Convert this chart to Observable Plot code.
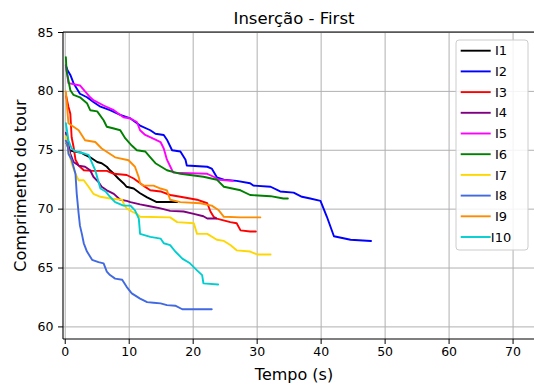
<!DOCTYPE html>
<html><head><meta charset="utf-8">
<script src="https://cdn.jsdelivr.net/npm/d3@7"></script>
<script src="https://cdn.jsdelivr.net/npm/@observablehq/plot@0.6"></script>
<style>
body{margin:0;background:#fff;}
#chart{position:relative;width:534px;height:387px;}
</style>
</head><body><div id="chart"></div>
<script>
const titleText = "Inserção - First";
const xLabelText = "Tempo (s)";
const yLabelText = "Comprimento do tour";
const xTicks = [0, 10, 20, 30, 40, 50, 60, 70];
const yTicks = [60, 65, 70, 75, 80, 85];

const seriesNames = ["I1","I2","I3","I4","I5","I6","I7","I8","I9","I10"];
const seriesColors = ["#000000","#0000ff","#ff0000","#800080","#ff00ff","#008000","#ffd700","#4169e1","#ff8c00","#00ced1"];

const I1_t = [0.2, 0.6, 1.3, 2.5, 3.1, 3.9, 5.0, 5.7, 6.5, 7.0, 7.6, 8.3, 9.1, 9.6, 10.7, 11.7, 12.8, 14.3, 17.5];
const I1_y = [75.6, 75.0, 74.9, 74.8, 74.6, 74.4, 74.0, 73.9, 73.6, 73.3, 73.0, 72.6, 72.2, 71.9, 71.75, 71.35, 71.0, 70.6, 70.6];

const I2_t = [0.1, 0.36, 0.8, 1.3, 2.3, 3.4, 4.4, 5.5, 7.0, 8.6, 10.2, 11.7, 13.3, 14.1, 15.4, 15.9, 16.7, 18.0, 18.8, 19.0, 22.2, 22.9, 23.7, 24.8, 26.8, 28.9, 29.4, 32.1, 33.6, 35.7, 37.0, 38.3, 39.9, 40.9, 42.0, 44.6, 47.8];
const I2_y = [82.2, 81.8, 81.4, 80.7, 79.8, 79.5, 79.1, 78.7, 78.4, 78.0, 77.7, 77.1, 76.7, 76.4, 76.3, 75.9, 75.0, 74.9, 74.2, 73.7, 73.6, 73.45, 72.7, 72.5, 72.4, 72.2, 72.0, 71.9, 71.5, 71.4, 71.05, 70.9, 70.7, 69.35, 67.7, 67.4, 67.3];

const I3_t = [0.15, 0.5, 0.8, 1.0, 1.3, 1.6, 2.1, 2.9, 4.4, 6.5, 7.6, 9.6, 10.7, 12.2, 13.3, 14.9, 16.4, 18.0, 20.6, 22.2, 22.7, 23.2, 23.7, 25.8, 26.8, 27.4, 28.9, 29.8];
const I3_y = [79.6, 78.7, 78.1, 76.1, 75.3, 74.2, 73.7, 73.3, 73.25, 73.25, 73.0, 72.9, 72.6, 72.0, 71.6, 71.5, 71.2, 71.05, 70.8, 70.5, 69.8, 69.35, 69.2, 68.9, 68.8, 68.2, 68.1, 68.1];

const I4_t = [0.1, 0.36, 0.8, 1.3, 2.1, 3.1, 3.9, 4.4, 5.2, 5.7, 6.5, 7.6, 8.6, 9.6, 10.2, 11.7, 13.2, 14.9, 16.4, 18.5, 20.1, 21.6, 22.2, 23.6];
const I4_y = [76.5, 75.85, 74.7, 74.0, 73.7, 73.6, 73.3, 72.75, 72.3, 71.9, 71.6, 71.3, 70.8, 70.7, 70.6, 70.4, 70.25, 70.06, 69.85, 69.8, 69.6, 69.4, 69.2, 69.2];

const I5_t = [0.1, 0.5, 2.3, 3.1, 3.9, 4.4, 6.0, 7.6, 9.1, 10.2, 11.2, 11.7, 12.5, 14.1, 14.9, 15.4, 15.9, 16.7, 16.9, 22.2, 23.2, 24.0, 26.2];
const I5_y = [82.2, 80.7, 80.5, 80.0, 79.5, 79.25, 78.8, 78.4, 77.8, 77.7, 77.4, 76.7, 76.3, 75.9, 75.7, 75.15, 74.2, 73.3, 73.1, 73.0, 72.75, 72.5, 72.4];

const I6_t = [0.1, 0.2, 0.8, 1.3, 2.3, 3.4, 3.9, 5.0, 6.0, 6.5, 7.6, 8.6, 9.4, 10.4, 11.2, 12.5, 13.3, 14.1, 15.9, 18.0, 21.6, 23.7, 24.8, 27.4, 28.9, 32.1, 34.1, 34.8];
const I6_y = [82.9, 81.8, 80.1, 79.7, 79.5, 79.0, 78.4, 78.3, 77.55, 77.0, 76.85, 76.7, 76.0, 75.4, 75.0, 74.9, 74.4, 73.9, 73.3, 73.0, 72.75, 72.5, 71.9, 71.6, 71.2, 71.1, 70.9, 70.9];

const I7_t = [0.1, 0.5, 1.0, 1.6, 2.1, 2.9, 3.65, 4.4, 5.5, 7.0, 8.9, 9.1, 9.6, 10.4, 11.2, 11.7, 16.4, 17.5, 20.1, 20.6, 22.2, 23.7, 24.8, 25.8, 26.8, 28.9, 30.0, 32.1];
const I7_y = [76.2, 75.0, 73.9, 73.0, 72.45, 72.45, 71.9, 71.3, 71.05, 70.9, 70.8, 70.5, 70.06, 69.8, 69.6, 69.35, 69.3, 68.9, 68.8, 67.9, 67.9, 67.4, 67.3, 66.95, 66.5, 66.4, 66.15, 66.15];

const I8_t = [0.1, 0.36, 0.5, 1.0, 1.6, 1.8, 2.1, 2.3, 2.6, 2.9, 3.4, 4.2, 5.2, 6.0, 6.5, 7.0, 7.8, 8.9, 9.6, 10.4, 11.7, 12.8, 13.8, 14.9, 15.9, 17.2, 18.3, 22.9];
const I8_y = [75.8, 75.6, 74.7, 74.2, 73.0, 71.3, 69.6, 68.6, 67.9, 67.1, 66.4, 65.7, 65.5, 65.4, 64.7, 64.4, 64.1, 64.0, 63.4, 62.85, 62.4, 62.1, 62.05, 62.0, 61.85, 61.8, 61.5, 61.5];

const I9_t = [0.1, 0.5, 1.3, 2.1, 3.1, 4.7, 5.7, 7.8, 9.9, 10.9, 11.5, 11.7, 12.2, 13.8, 14.9, 15.9, 16.4, 18.0, 21.1, 22.9, 24.0, 24.8, 27.4, 30.5];
const I9_y = [80.0, 77.3, 77.0, 76.7, 75.85, 75.7, 75.15, 74.4, 74.15, 73.6, 72.7, 72.2, 72.0, 72.0, 71.75, 71.6, 70.8, 70.6, 70.5, 70.3, 69.9, 69.35, 69.3, 69.3];

const I10_t = [0.1, 0.5, 1.0, 1.6, 3.1, 3.65, 4.2, 4.7, 5.0, 5.5, 6.3, 7.0, 7.8, 9.1, 10.2, 10.9, 11.5, 11.7, 13.3, 14.9, 15.4, 16.4, 17.2, 18.3, 19.5, 20.6, 21.4, 21.6, 23.9];
const I10_y = [77.3, 75.85, 75.15, 74.9, 74.7, 74.6, 73.9, 73.3, 72.7, 71.75, 71.5, 71.05, 70.6, 70.3, 70.3, 69.9, 69.2, 67.9, 67.65, 67.5, 67.1, 66.95, 66.4, 65.8, 65.4, 64.8, 64.4, 63.7, 63.6];

const seriesT = [I1_t, I2_t, I3_t, I4_t, I5_t, I6_t, I7_t, I8_t, I9_t, I10_t];
const seriesY = [I1_y, I2_y, I3_y, I4_y, I5_y, I6_y, I7_y, I8_y, I9_y, I10_y];

const rows = [];
seriesNames.forEach((name, i) => {
  seriesT[i].forEach((t, j) => rows.push({s: name, t: t, v: seriesY[i][j]}));
});

const FONT = "DejaVu Sans, sans-serif";
const plot = Plot.plot({
  width: 534, height: 387,
  marginLeft: 63, marginRight: 0, marginTop: 32, marginBottom: 48,
  style: {fontFamily: FONT, fontSize: "12.5px", color: "black", background: "white", overflow: "visible"},
  x: {domain: [-0.27, 73.35]},
  y: {domain: [58.93, 85]},
  color: {domain: seriesNames, range: seriesColors},
  marks: [
    Plot.gridX(xTicks, {stroke: "#b0b0b0", strokeOpacity: 1, strokeWidth: 1}),
    Plot.gridY(yTicks, {stroke: "#b0b0b0", strokeOpacity: 1, strokeWidth: 1}),
    Plot.line(rows, {x: "t", y: "v", z: "s", stroke: "s", strokeWidth: 1.9, strokeLinejoin: "round"}),
    Plot.axisX(xTicks, {tickSize: 5, tickPadding: 3, label: null, fontSize: 12.5}),
    Plot.axisY(yTicks, {tickSize: 5, tickPadding: 5, label: null, fontSize: 12.5})
  ]
});
document.getElementById("chart").appendChild(plot);

const svg = d3.select(plot);
const xr = plot.scale("x").range;
const yr = plot.scale("y").range;
const x0 = Math.min(...xr), x1 = Math.max(...xr);
const yTop = Math.min(...yr), yBot = Math.max(...yr);

// spines (left, bottom, top)
const sp = svg.append("g").attr("stroke", "black").attr("stroke-width", 1.1);
sp.append("line").attr("x1", x0).attr("x2", x0).attr("y1", yTop).attr("y2", yBot);
sp.append("line").attr("x1", x0).attr("x2", x1).attr("y1", yBot).attr("y2", yBot);
sp.append("line").attr("x1", x0).attr("x2", x1).attr("y1", yTop).attr("y2", yTop);

// title and axis labels
svg.append("text").text(titleText)
  .attr("x", 294).attr("y", 24).attr("text-anchor", "middle")
  .style("font-family", FONT).style("font-size", "16.5px").attr("fill", "black");
svg.append("text").text(xLabelText)
  .attr("x", 294).attr("y", 380).attr("text-anchor", "middle")
  .style("font-family", FONT).style("font-size", "16px").attr("fill", "black");
svg.append("text").text(yLabelText)
  .attr("transform", `translate(26,${(yTop + yBot) / 2}) rotate(-90)`)
  .attr("text-anchor", "middle")
  .style("font-family", FONT).style("font-size", "16px").attr("fill", "black");

// legend
const lg = svg.append("g");
lg.append("rect").attr("x", 456).attr("y", 40).attr("width", 72).attr("height", 210)
  .attr("rx", 3).attr("fill", "white").attr("fill-opacity", 0.85)
  .attr("stroke", "#cccccc").attr("stroke-width", 1);
seriesNames.forEach((name, i) => {
  const cy = 50.7 + i * 20.7;
  lg.append("line").attr("x1", 460.7).attr("x2", 490.7).attr("y1", cy).attr("y2", cy)
    .attr("stroke", seriesColors[i]).attr("stroke-width", 1.9);
  lg.append("text").text(name).attr("x", 501).attr("y", cy).attr("dy", "0.36em")
    .style("font-family", FONT).style("font-size", "13px").attr("fill", "black");
});
</script>
</body></html>
